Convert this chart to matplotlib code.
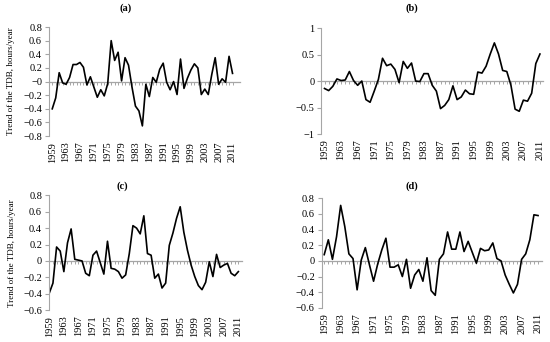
import numpy as np
import matplotlib
matplotlib.use("Agg")
import matplotlib.pyplot as plt
from matplotlib.ticker import FormatStrFormatter, FuncFormatter

plt.rcParams['font.family'] = ['Liberation Serif', 'DejaVu Serif']

years = np.arange(1959, 2012)

trend_a = [-0.40, -0.24, 0.13, -0.02, -0.04, 0.06, 0.25, 0.25, 0.28, 0.21,
           -0.05, 0.07, -0.08, -0.23, -0.12, -0.21, -0.03, 0.60, 0.31, 0.43,
           0.01, 0.35, 0.24, -0.08, -0.36, -0.43, -0.65, -0.04, -0.22, 0.06,
           -0.01, 0.18, 0.27, -0.01, -0.12, 0.00, -0.19, 0.33, -0.10, 0.05,
           0.17, 0.26, 0.20, -0.19, -0.11, -0.19, 0.10, 0.35, -0.04, 0.04,
           -0.01, 0.37, 0.12]

trend_b = [-0.14, -0.18, -0.10, 0.04, 0.01, 0.02, 0.18, 0.01, -0.08, 0.00,
           -0.35, -0.40, -0.19, 0.03, 0.43, 0.29, 0.32, 0.22, -0.03, 0.37,
           0.24, 0.34, 0.00, -0.01, 0.14, 0.14, -0.08, -0.19, -0.52, -0.46,
           -0.35, -0.09, -0.35, -0.30, -0.17, -0.24, -0.25, 0.17, 0.15, 0.28,
           0.51, 0.72, 0.51, 0.20, 0.18, -0.08, -0.53, -0.57, -0.36, -0.38,
           -0.23, 0.33, 0.51]

trend_c = [-0.39, -0.27, 0.17, 0.12, -0.13, 0.22, 0.39, 0.02, 0.01, 0.00,
           -0.15, -0.18, 0.07, 0.12, -0.02, -0.16, 0.24, -0.09, -0.10, -0.13,
           -0.21, -0.17, 0.09, 0.43, 0.40, 0.33, 0.55, 0.09, 0.07, -0.21,
           -0.16, -0.33, -0.27, 0.19, 0.34, 0.52, 0.66, 0.35, 0.13, -0.05,
           -0.19, -0.30, -0.35, -0.26, -0.01, -0.19, 0.08, -0.08, -0.05, -0.03,
           -0.15, -0.18, -0.13]

trend_d = [0.08, 0.27, 0.02, 0.31, 0.71, 0.44, 0.09, 0.03, -0.37, 0.01,
           0.17, -0.05, -0.26, -0.04, 0.14, 0.29, -0.08, -0.08, -0.05, -0.20,
           0.02, -0.35, -0.18, -0.11, -0.26, 0.04, -0.38, -0.44, 0.02, 0.09,
           0.37, 0.15, 0.15, 0.37, 0.12, 0.25, 0.11, -0.03, 0.16, 0.13,
           0.14, 0.23, 0.03, 0.00, -0.18, -0.30, -0.41, -0.30, 0.02, 0.09,
           0.27, 0.59, 0.58]

label_years = years[::4]
ylabel = 'Trend of the TDB, hours/year'
grey = '#a6a6a6'

# panel: (data, title, rect, xlim, ylim, ystep, title pos, ylabel x)
panels = [
    (trend_a, '(a)', [0.089, 0.602, 0.347, 0.319], (1958.05, 2013.1), (-0.8, 0.8), 0.2, (0.40, 1.17), -0.178),
    (trend_b, '(b)', [0.584, 0.608, 0.403, 0.310], (1958.2, 2011.7), (-1.0, 1.0), 0.5, (0.41, 1.19), None),
    (trend_c, '(c)', [0.089, 0.093, 0.351, 0.336], (1958.9, 2012.0), (-0.6, 0.8), 0.2, (0.38, 1.08), -0.171),
    (trend_d, '(d)', [0.585, 0.100, 0.400, 0.320], (1958.4, 2011.9), (-0.6, 0.8), 0.2, (0.41, 1.11), None),
]

fig = plt.figure(figsize=(5.5, 3.42), dpi=100)

for vals, title, rect, xl, yl, step, tpos, ylx in panels:
    ax = fig.add_axes(rect)
    ax.plot(years, vals, color='black', lw=1.2)
    ax.set_xlim(*xl)
    ax.set_ylim(*yl)
    ax.set_yticks(np.arange(yl[0], yl[1] + step / 2, step))
    ax.yaxis.set_major_formatter(FuncFormatter(lambda v, p: ('%g' % round(v, 2)).replace('-', '\u2212')))

    for s in ['top', 'right', 'bottom']:
        ax.spines[s].set_visible(False)
    ax.spines['left'].set_color(grey)
    ax.spines['left'].set_linewidth(0.8)
    ax.tick_params(axis='y', color=grey, length=3, width=0.8, labelsize=7.5, pad=2)

    # year labels at the bottom, no tick marks
    ax.set_xticks(label_years)
    ax.set_xticklabels([str(y) for y in label_years], rotation=90, fontsize=7.5)
    ax.tick_params(axis='x', length=0, pad=4)

    # category axis crossing at zero
    sec = ax.secondary_xaxis(0, transform=ax.transData)
    sec.set_xticks(years)
    sec.tick_params(axis='x', color=grey, length=2.5, width=0.7, labelbottom=False)
    sec.spines['bottom'].set_color(grey)
    sec.spines['bottom'].set_linewidth(0.9)

    ax.text(tpos[0], tpos[1], title, transform=ax.transAxes, ha='center', va='center',
            fontsize=7.5, fontweight='bold')

    if ylx is not None:
        ax.set_ylabel(ylabel, fontsize=6.5)
        ax.yaxis.set_label_coords(ylx, 0.5)

fig.savefig('out.png', dpi=100)
